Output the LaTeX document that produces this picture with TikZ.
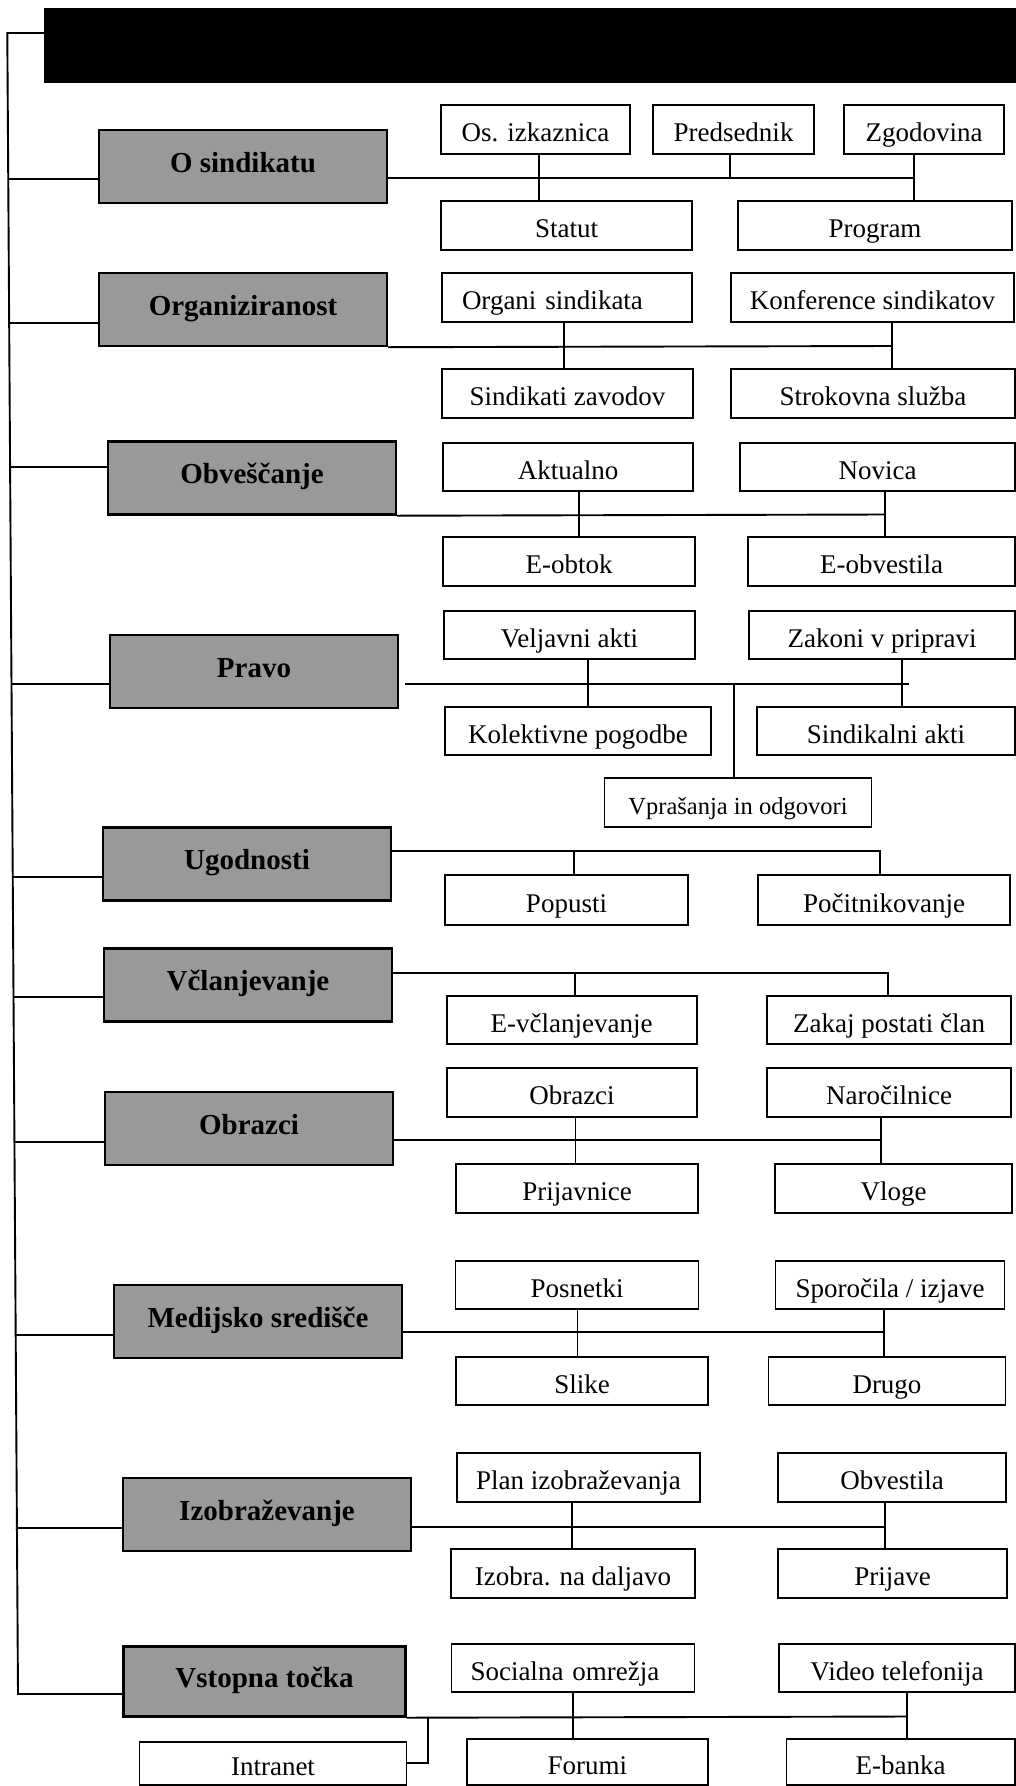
\documentclass[tikz,border=0pt]{standalone}
\usepackage{fontspec}
\setmainfont{Liberation Serif}
\begin{document}
\begin{tikzpicture}[x=1pt,y=-1pt]
	\tikzstyle{every node}+=[inner sep=0pt]
	\tikzstyle{kat}=[draw, line width=2.4pt, fill=black!40, minimum width=288, minimum height=73, font=\fontsize{29}{34}\selectfont\bfseries, text height=17pt, text depth=6pt]
	\tikzstyle{pod}=[draw, line width=1.8pt, fill=white, minimum height=49, font=\fontsize{27}{32}\selectfont, text height=24pt, text depth=0pt]
	\tikzstyle{vez}=[line width=1.9pt]
	\useasboundingbox (0,0) rectangle (1016,1786);
	\node[fill=black, minimum width=976, minimum height=75] (naslov) at (532,45.8) {};
	\node[kat] (osind) at (243,166.5) {O sindikatu};
	\node[kat] (organ) at (243,309.5) {Organiziranost};
	\node[kat] (obves) at (252,478) {Obveščanje};
	\node[kat] (pravo) at (254,671.5) {Pravo};
	\node[kat] (ugod) at (247,864) {Ugodnosti};
	\node[kat] (vclan) at (248,985) {Včlanjevanje};
	\node[kat] (obraz) at (249,1128.5) {Obrazci};
	\node[kat] (medij) at (258,1321.5) {Medijsko središče};
	\node[kat] (izobr) at (267,1514.5) {Izobraževanje};
	\node[kat, minimum width=282, minimum height=70] (vstop) at (264.5,1681.5) {Vstopna točka};
	\node[pod, minimum width=189] (osk) at (535.5,129.5) {Os. izkaznica};
	\node[pod, minimum width=161] (pred) at (733.5,129.5) {Predsednik};
	\node[pod, minimum width=160] (zgod) at (924,129.5) {Zgodovina};
	\node[pod, minimum width=251] (statut) at (566.5,225.5) {Statut};
	\node[pod, minimum width=274] (progr) at (875,225.5) {Program};
	\node[pod, minimum width=250, text width=210, inner xsep=20, align=left] (organi) at (567,297.5) {Organi sindikata};
	\node[pod, minimum width=283] (konf) at (872.5,297.5) {Konference sindikatov};
	\node[pod, minimum width=251] (sindz) at (567.5,393.5) {Sindikati zavodov};
	\node[pod, minimum width=284] (strok) at (873,393.5) {Strokovna služba};
	\node[pod, minimum width=250, minimum height=48] (aktu) at (568,467) {Aktualno};
	\node[pod, minimum width=275, minimum height=48] (novica) at (877.5,467) {Novica};
	\node[pod, minimum width=252] (eobtok) at (569,561.5) {E-obtok};
	\node[pod, minimum width=267] (eobv) at (881.5,561.5) {E-obvestila};
	\node[pod, minimum width=251, minimum height=48] (velj) at (569.5,635) {Veljavni akti};
	\node[pod, minimum width=266, minimum height=48] (zakoni) at (882,635) {Zakoni v pripravi};
	\node[pod, minimum width=266, minimum height=48] (kolekt) at (578,731) {Kolektivne pogodbe};
	\node[pod, minimum width=258, minimum height=48] (sindak) at (886,731) {Sindikalni akti};
	\node[pod, minimum width=267, font=\fontsize{24.5}{29}\selectfont] (vpras) at (738,802.5) {Vprašanja in odgovori};
	\node[pod, minimum width=243, minimum height=50] (popusti) at (566.5,900) {Popusti};
	\node[pod, minimum width=252, minimum height=50] (pocit) at (884,900) {Počitnikovanje};
	\node[pod, minimum width=250, minimum height=48] (evclan) at (571.6,1020) {E-včlanjevanje};
	\node[pod, minimum width=244, minimum height=48] (zakaj) at (889,1020) {Zakaj postati član};
	\node[pod, minimum width=250.5] (obrazcik) at (572,1092.5) {Obrazci};
	\node[pod, minimum width=244] (naroc) at (889,1092.5) {Naročilnice};
	\node[pod, minimum width=242.5] (prijavn) at (577,1188.5) {Prijavnice};
	\node[pod, minimum width=237] (vloge) at (893.5,1188.5) {Vloge};
	\node[pod, minimum width=243, minimum height=48] (posn) at (577,1285) {Posnetki};
	\node[pod, minimum width=229, minimum height=48] (sporoc) at (890,1285) {Sporočila / izjave};
	\node[pod, minimum width=252, minimum height=48] (slike) at (582,1381) {Slike};
	\node[pod, minimum width=237, minimum height=48] (drugo) at (887,1381) {Drugo};
	\node[pod, minimum width=243] (plan) at (578.5,1477.5) {Plan izobraževanja};
	\node[pod, minimum width=228] (obvest) at (892,1477.5) {Obvestila};
	\node[pod, minimum width=244] (daljavo) at (573,1573.5) {Izobra. na daljavo};
	\node[pod, minimum width=229] (prijave) at (892.5,1573.5) {Prijave};
	\node[pod, minimum width=243, minimum height=48, text width=205, inner xsep=19, align=left] (social) at (573,1668) {Socialna omrežja};
	\node[pod, minimum width=236, minimum height=48] (video) at (897,1668) {Video telefonija};
	\node[pod, minimum width=267, minimum height=43] (intranet) at (273,1763.3) {Intranet};
	\node[pod, minimum width=241.4, minimum height=46] (forumi) at (587.3,1762) {Forumi};
	\node[pod, minimum width=228.5, minimum height=46] (ebanka) at (900.7,1762) {E-banka};
	\coordinate (s0) at (7.3,33);
	\coordinate (s1) at (8.2,179);
	\coordinate (s2) at (9.2,322.7);
	\coordinate (s3) at (10.1,467);
	\coordinate (s4) at (11.5,684);
	\coordinate (s5) at (12.7,877);
	\coordinate (s6) at (13.5,997);
	\coordinate (s7) at (14.4,1141.7);
	\coordinate (s8) at (15.7,1335);
	\coordinate (s9) at (16.9,1528);
	\coordinate (s10) at (18,1694);
	\draw[vez] (naslov.west |- s0) -- (s0) -- (s10) -- (s10 -| vstop.west);
	\draw[vez] (s1) -- (s1 -| osind.west);
	\draw[vez] (s2) -- (s2 -| organ.west);
	\draw[vez] (s3) -- (s3 -| obves.west);
	\draw[vez] (s4) -- (s4 -| pravo.west);
	\draw[vez] (s5) -- (s5 -| ugod.west);
	\draw[vez] (s6) -- (s6 -| vclan.west);
	\draw[vez] (s7) -- (s7 -| obraz.west);
	\draw[vez] (s8) -- (s8 -| medij.west);
	\draw[vez] (s9) -- (s9 -| izobr.west);
	\coordinate (b1a) at (539,178);
	\coordinate (b1b) at (730,178);
	\coordinate (b1c) at (914,178);
	\draw[vez] (b1a -| osind.east) -- (b1c);
	\draw[vez] (osk.south -| b1a) -- (statut.north -| b1a);
	\draw[vez] (pred.south -| b1b) -- (b1b);
	\draw[vez] (zgod.south -| b1c) -- (progr.north -| b1c);
	\coordinate (b2a) at (564,346);
	\coordinate (b2b) at (892,346);
	\draw[vez] (organ.south east) -- (b2b);
	\draw[vez] (organi.south -| b2a) -- (sindz.north -| b2a);
	\draw[vez] (konf.south -| b2b) -- (strok.north -| b2b);
	\coordinate (b3a) at (579,514.5);
	\coordinate (b3b) at (885,514.5);
	\draw[vez] (obves.south east) -- (b3b);
	\draw[vez] (aktu.south -| b3a) -- (eobtok.north -| b3a);
	\draw[vez] (novica.south -| b3b) -- (eobv.north -| b3b);
	\coordinate (b4s) at (405,684);
	\coordinate (b4a) at (588,684);
	\coordinate (b4c) at (733.6,684);
	\coordinate (b4b) at (902,684);
	\coordinate (b4e) at (909,684);
	\draw[vez] (b4s) -- (b4e);
	\draw[vez] (velj.south -| b4a) -- (kolekt.north -| b4a);
	\draw[vez] (zakoni.south -| b4b) -- (sindak.north -| b4b);
	\draw[vez] (b4c) -- (vpras.north -| b4c);
	\coordinate (b5a) at (574,851);
	\coordinate (b5b) at (880,851);
	\draw[vez] (b5a -| ugod.east) -- (b5b) -- (pocit.north -| b5b);
	\draw[vez] (b5a) -- (popusti.north -| b5a);
	\coordinate (b6a) at (575,973);
	\coordinate (b6b) at (888,973);
	\draw[vez] (b6a -| vclan.east) -- (b6b) -- (zakaj.north -| b6b);
	\draw[vez] (b6a) -- (evclan.north -| b6a);
	\coordinate (b7a) at (575.5,1140);
	\coordinate (b7b) at (881,1140);
	\draw[vez] (b7a -| obraz.east) -- (b7b);
	\draw[vez] (obrazcik.south -| b7a) -- (prijavn.north -| b7a);
	\draw[vez] (naroc.south -| b7b) -- (vloge.north -| b7b);
	\coordinate (b8a) at (577.5,1332);
	\coordinate (b8b) at (884,1332);
	\draw[vez] (b8a -| medij.east) -- (b8b);
	\draw[vez] (posn.south -| b8a) -- (slike.north -| b8a);
	\draw[vez] (sporoc.south -| b8b) -- (drugo.north -| b8b);
	\coordinate (b9a) at (571.6,1527);
	\coordinate (b9b) at (885,1527);
	\draw[vez] (b9a -| izobr.east) -- (b9b);
	\draw[vez] (plan.south -| b9a) -- (daljavo.north -| b9a);
	\draw[vez] (obvest.south -| b9b) -- (prijave.north -| b9b);
	\coordinate (b10i) at (428,1716.5);
	\coordinate (b10a) at (573,1716.5);
	\coordinate (b10b) at (907,1716.5);
	\draw[vez] (vstop.south east) -- (b10b);
	\draw[vez] (social.south -| b10a) -- (forumi.north -| b10a);
	\draw[vez] (video.south -| b10b) -- (ebanka.north -| b10b);
	\draw[vez] (b10i) |- (intranet.east);
\end{tikzpicture}
\end{document}
